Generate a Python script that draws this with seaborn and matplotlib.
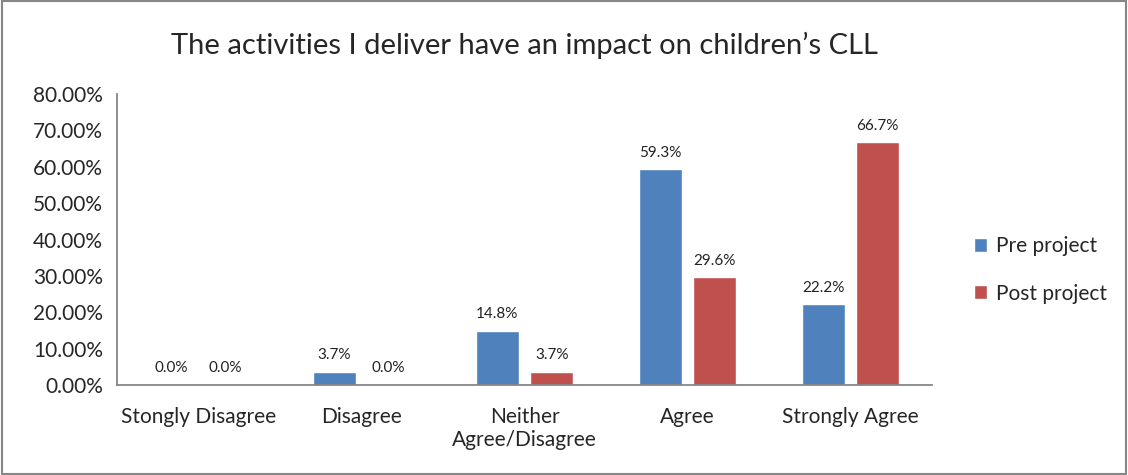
import matplotlib.pyplot as plt
import seaborn as sns
import pandas as pd
from matplotlib.patches import Rectangle

sns.set_style("white")
plt.rcParams["font.family"] = ["Lato", "DejaVu Sans"]

categories = ["Stongly Disagree", "Disagree", "Neither\nAgree/Disagree", "Agree", "Strongly Agree"]
pre_project = [0.0, 3.7, 14.8, 59.3, 22.2]
post_project = [0.0, 0.0, 3.7, 29.6, 66.7]
series = ["Pre project", "Post project"]
colors = ["#4F81BD", "#C0504D"]

df = pd.DataFrame({
    "category": categories * 2,
    "value": pre_project + post_project,
    "series": [series[0]] * 5 + [series[1]] * 5,
})

fig = plt.figure(figsize=(11.28, 4.75), dpi=100)
ax = fig.add_axes([117 / 1128, 1 - 385 / 475, 815 / 1128, 291 / 475])

sns.barplot(data=df, x="category", y="value", hue="series", palette=colors,
            width=0.668, gap=0.22, ax=ax, legend=True, saturation=1)

for cont in ax.containers:
    ax.bar_label(cont, fmt="%.1f%%", padding=7, fontsize=11, color="#222222")

ax.set_ylim(0, 80)
ax.set_yticks(range(0, 81, 10))
ax.set_yticklabels([f"{v:.2f}%" for v in range(0, 81, 10)])
ax.set_xlim(-0.5, 4.5)
ax.set_xlabel("")
ax.set_ylabel("")
ax.tick_params(axis="y", labelsize=15, length=6, width=1.2, color="#868686", pad=4, direction="out")
ax.tick_params(axis="x", labelsize=15, length=0, pad=16)
for lab in ax.get_xticklabels():
    lab.set_verticalalignment("top")
sns.despine(ax=ax)
for s in ["left", "bottom"]:
    ax.spines[s].set_color("#868686")
    ax.spines[s].set_linewidth(1.3)

ax.legend(loc="center left", bbox_to_anchor=(955 / 1128, 1 - 270 / 475),
          bbox_transform=fig.transFigure, frameon=False, fontsize=15,
          handlelength=0.65, handleheight=0.65, handletextpad=0.4, labelspacing=1.3)

fig.text(0.465, 1 - 45 / 475, "The activities I deliver have an impact on children\u2019s CLL",
         ha="center", va="center", fontsize=21)

fig.patches.append(Rectangle((0.002, 0.002), 0.996, 0.996, transform=fig.transFigure,
                             fill=False, edgecolor="#868686", linewidth=1.5))

fig.savefig("out.png", dpi=100)
